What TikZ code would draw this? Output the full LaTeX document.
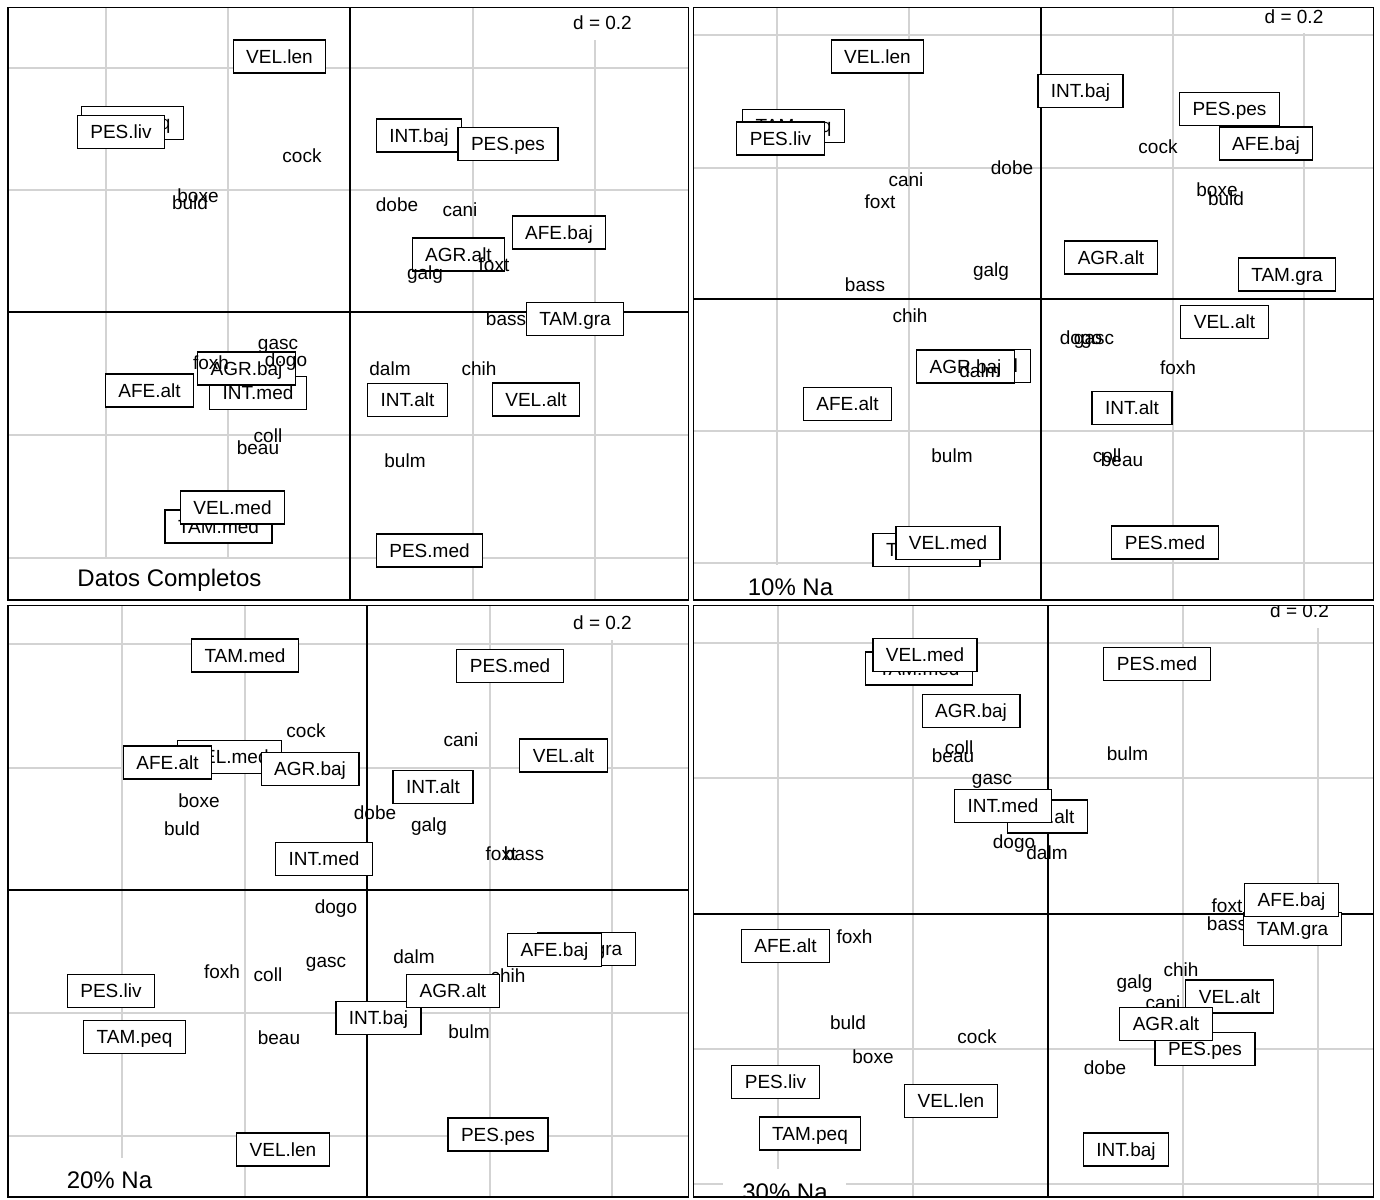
\documentclass[tikz,border=0pt]{standalone}
\usepackage{fontspec}
\setmainfont{Liberation Sans}
\definecolor{plotink}{HTML}{000000}
\definecolor{plotgrid}{HTML}{D3D3D3}
\newcommand\labfont{\fontsize{19}{19}\selectfont}
\newcommand\subfont{\fontsize{24}{24}\selectfont}

\begin{document}
\begin{tikzpicture}[
  x=1pt,
  y=-1pt,
  every node/.style={font=\labfont},
  catbox/.style={draw=plotink, fill=white, line width=1.2pt, minimum height=33, inner xsep=13pt, inner ysep=0pt, text height=13.7pt, text depth=0pt},
  doglab/.style={inner sep=0pt, text height=12pt, text depth=0pt},
  sublab/.style={font=\subfont, inner sep=0pt, text height=17pt, text depth=0pt},
  gridline/.style={plotgrid, line width=1.2pt},
  axisline/.style={plotink, line width=1.2pt},
  frameline/.style={plotink, line width=1.8pt}
]
  \useasboundingbox (0,0) rectangle (1380,1199);

  % Datos Completos
  \begin{scope}
    \clip (8,7.5) rectangle (688.5,600);
    \foreach \gx in {106,228,473,595} \draw[gridline] (\gx,7.5) -- (\gx,600);
    \foreach \gy in {68,190,435,558} \draw[gridline] (8,\gy) -- (688.5,\gy);
    \fill[white] (563,7.5) rectangle (642,40);
    \fill[white] (8,559) rectangle (272,600);
    \draw[axisline] (350,7.5) -- (350,600);
    \draw[axisline] (8,312) -- (688.5,312);
    \node[doglab] (A-d) at (602.5,24) {d = 0.2};
    \node[sublab] (A-sub) at (169.5,578) {Datos Completos};
    \node[catbox] (A-TAMpeq) at (132.5,123) {TAM.peq};
    \node[catbox] (A-PESliv) at (121,132) {PES.liv};
    \node[catbox] (A-VELlen) at (279.5,56.5) {VEL.len};
    \node[catbox] (A-INTbaj) at (419,135.5) {INT.baj};
    \node[catbox] (A-PESpes) at (508,144) {PES.pes};
    \node[catbox] (A-AFEbaj) at (559,232.5) {AFE.baj};
    \node[catbox] (A-AGRalt) at (458.5,254.5) {AGR.alt};
    \node[catbox] (A-TAMgra) at (575,319) {TAM.gra};
    \node[catbox] (A-AFEalt) at (149.5,390.5) {AFE.alt};
    \node[catbox] (A-INTmed) at (258,393) {INT.med};
    \node[catbox] (A-AGRbaj) at (246.5,368.5) {AGR.baj};
    \node[catbox] (A-TAMmed) at (218.5,526.5) {TAM.med};
    \node[catbox] (A-VELmed) at (232.5,507.5) {VEL.med};
    \node[catbox] (A-INTalt) at (407.5,400) {INT.alt};
    \node[catbox] (A-VELalt) at (536,399.5) {VEL.alt};
    \node[catbox] (A-PESmed) at (429.5,550.5) {PES.med};
    \node[doglab] (A-cock) at (302,156) {cock};
    \node[doglab] (A-boxe) at (198,196) {boxe};
    \node[doglab] (A-buld) at (190,203) {buld};
    \node[doglab] (A-dobe) at (397,205) {dobe};
    \node[doglab] (A-cani) at (460,210) {cani};
    \node[doglab] (A-foxt) at (494,265) {foxt};
    \node[doglab] (A-galg) at (425,273) {galg};
    \node[doglab] (A-bass) at (506,319) {bass};
    \node[doglab] (A-gasc) at (278,343) {gasc};
    \node[doglab] (A-foxh) at (211,363) {foxh};
    \node[doglab] (A-dogo) at (286,360) {dogo};
    \node[doglab] (A-dalm) at (390,369) {dalm};
    \node[doglab] (A-chih) at (479,369) {chih};
    \node[doglab] (A-coll) at (268,436) {coll};
    \node[doglab] (A-beau) at (258,448) {beau};
    \node[doglab] (A-bulm) at (405,461) {bulm};
  \end{scope}
  \draw[frameline] (8,7.5) rectangle (688.5,600);

  % 10% Na
  \begin{scope}
    \clip (693.5,7.5) rectangle (1373.5,600);
    \foreach \gx in {777,909,1173,1304} \draw[gridline] (\gx,7.5) -- (\gx,600);
    \foreach \gy in {35,168,431,563} \draw[gridline] (693.5,\gy) -- (1373.5,\gy);
    \fill[white] (1254,7.5) rectangle (1334,33);
    \fill[white] (738,565) rectangle (843,600);
    \draw[axisline] (1041,7.5) -- (1041,600);
    \draw[axisline] (693.5,299) -- (1373.5,299);
    \node[doglab] (B-d) at (1294,18) {d = 0.2};
    \node[sublab] (B-sub) at (790.5,587) {10\% Na};
    \node[catbox] (B-VELlen) at (877.5,56.5) {VEL.len};
    \node[catbox] (B-TAMpeq) at (793.5,126) {TAM.peq};
    \node[catbox] (B-PESliv) at (780.5,138.5) {PES.liv};
    \node[catbox] (B-INTbaj) at (1080.5,91) {INT.baj};
    \node[catbox] (B-PESpes) at (1229.5,109) {PES.pes};
    \node[catbox] (B-AFEbaj) at (1266,143.5) {AFE.baj};
    \node[catbox] (B-AGRalt) at (1111,257.5) {AGR.alt};
    \node[catbox] (B-TAMgra) at (1287,274.5) {TAM.gra};
    \node[catbox] (B-VELalt) at (1224.5,322) {VEL.alt};
    \node[catbox] (B-INTalt) at (1132,408) {INT.alt};
    \node[catbox] (B-PESmed) at (1165,542.5) {PES.med};
    \node[catbox] (B-AFEalt) at (847.5,404) {AFE.alt};
    \node[catbox] (B-INTmed) at (982.5,366) {INT.med};
    \node[catbox] (B-AGRbaj) at (965.5,366.5) {AGR.baj};
    \node[catbox] (B-TAMmed) at (926.5,550) {TAM.med};
    \node[catbox] (B-VELmed) at (948,543) {VEL.med};
    \node[doglab] (B-cani) at (906,180) {cani};
    \node[doglab] (B-foxt) at (880,202) {foxt};
    \node[doglab] (B-dobe) at (1012,168) {dobe};
    \node[doglab] (B-galg) at (991,270) {galg};
    \node[doglab] (B-bass) at (865,285) {bass};
    \node[doglab] (B-cock) at (1158,147) {cock};
    \node[doglab] (B-boxe) at (1217,190) {boxe};
    \node[doglab] (B-buld) at (1226,199) {buld};
    \node[doglab] (B-chih) at (910,316) {chih};
    \node[doglab] (B-dalm) at (980,371) {dalm};
    \node[doglab] (B-bulm) at (952,456) {bulm};
    \node[doglab] (B-dogo) at (1081,338) {dogo};
    \node[doglab] (B-gasc) at (1094,338) {gasc};
    \node[doglab] (B-foxh) at (1178,368) {foxh};
    \node[doglab] (B-coll) at (1107,456) {coll};
    \node[doglab] (B-beau) at (1122,460) {beau};
  \end{scope}
  \draw[frameline] (693.5,7.5) rectangle (1373.5,600);

  % 20% Na
  \begin{scope}
    \clip (8,605.5) rectangle (688.5,1197);
    \foreach \gx in {122,245,490,612} \draw[gridline] (\gx,605.5) -- (\gx,1197);
    \foreach \gy in {644,768,1013,1136} \draw[gridline] (8,\gy) -- (688.5,\gy);
    \fill[white] (563,605.5) rectangle (642,640);
    \fill[white] (56,1158) rectangle (163,1197);
    \draw[axisline] (367,605.5) -- (367,1197);
    \draw[axisline] (8,890) -- (688.5,890);
    \node[doglab] (C-d) at (602.5,623) {d = 0.2};
    \node[sublab] (C-sub) at (109.5,1180) {20\% Na};
    \node[doglab] (C-cock) at (306,731) {cock};
    \node[doglab] (C-cani) at (461,740) {cani};
    \node[doglab] (C-boxe) at (199,801) {boxe};
    \node[doglab] (C-buld) at (182,829) {buld};
    \node[doglab] (C-dobe) at (375,813) {dobe};
    \node[doglab] (C-galg) at (429,825) {galg};
    \node[doglab] (C-foxt) at (501,854) {foxt};
    \node[doglab] (C-bass) at (524,854) {bass};
    \node[doglab] (C-dogo) at (336,907) {dogo};
    \node[doglab] (C-dalm) at (414,957) {dalm};
    \node[doglab] (C-foxh) at (222,972) {foxh};
    \node[doglab] (C-coll) at (268,975) {coll};
    \node[doglab] (C-gasc) at (326,961) {gasc};
    \node[doglab] (C-chih) at (508,976) {chih};
    \node[doglab] (C-bulm) at (469,1032) {bulm};
    \node[doglab] (C-beau) at (279,1038) {beau};
    \node[catbox] (C-TAMmed) at (245,655.5) {TAM.med};
    \node[catbox] (C-PESmed) at (510,666) {PES.med};
    \node[catbox] (C-VELmed) at (229.5,757) {VEL.med};
    \node[catbox] (C-AFEalt) at (167.5,762.5) {AFE.alt};
    \node[catbox] (C-AGRbaj) at (310,769) {AGR.baj};
    \node[catbox] (C-VELalt) at (563.5,755.5) {VEL.alt};
    \node[catbox] (C-INTalt) at (433,787) {INT.alt};
    \node[catbox] (C-INTmed) at (324,859) {INT.med};
    \node[catbox] (C-TAMgra) at (586.5,949) {TAM.gra};
    \node[catbox] (C-AFEbaj) at (554.5,950) {AFE.baj};
    \node[catbox] (C-INTbaj) at (378.5,1018) {INT.baj};
    \node[catbox] (C-AGRalt) at (453,991) {AGR.alt};
    \node[catbox] (C-PESliv) at (111,991) {PES.liv};
    \node[catbox] (C-TAMpeq) at (134.5,1037) {TAM.peq};
    \node[catbox] (C-VELlen) at (283,1149.5) {VEL.len};
    \node[catbox] (C-PESpes) at (498,1134.5) {PES.pes};
  \end{scope}
  \draw[frameline] (8,605.5) rectangle (688.5,1197);

  % 30% Na
  \begin{scope}
    \clip (693.5,605.5) rectangle (1373.5,1197);
    \foreach \gx in {778,913,1183,1318} \draw[gridline] (\gx,605.5) -- (\gx,1197);
    \foreach \gy in {643,778,1049,1184} \draw[gridline] (693.5,\gy) -- (1373.5,\gy);
    \fill[white] (1260,605.5) rectangle (1339,628);
    \fill[white] (723,1169) rectangle (846,1197);
    \draw[axisline] (1048,605.5) -- (1048,1197);
    \draw[axisline] (693.5,914) -- (1373.5,914);
    \node[doglab] (D-d) at (1299.5,611) {d = 0.2};
    \node[sublab] (D-sub) at (785,1191.5) {30\% Na};
    \node[doglab] (D-coll) at (959,748) {coll};
    \node[doglab] (D-beau) at (953,756) {beau};
    \node[doglab] (D-bulm) at (1127.5,754) {bulm};
    \node[doglab] (D-gasc) at (992,778) {gasc};
    \node[doglab] (D-dogo) at (1014,842) {dogo};
    \node[doglab] (D-dalm) at (1047,853) {dalm};
    \node[doglab] (D-foxt) at (1227,906) {foxt};
    \node[doglab] (D-bass) at (1227,924) {bass};
    \node[doglab] (D-foxh) at (854.5,937) {foxh};
    \node[doglab] (D-chih) at (1181,970) {chih};
    \node[doglab] (D-galg) at (1134.5,982) {galg};
    \node[doglab] (D-cani) at (1163,1003) {cani};
    \node[doglab] (D-buld) at (848,1023) {buld};
    \node[doglab] (D-cock) at (977,1037) {cock};
    \node[doglab] (D-boxe) at (873,1057) {boxe};
    \node[doglab] (D-dobe) at (1105,1068) {dobe};
    \node[catbox] (D-TAMmed) at (919,668.5) {TAM.med};
    \node[catbox] (D-VELmed) at (925,655) {VEL.med};
    \node[catbox] (D-PESmed) at (1157,664) {PES.med};
    \node[catbox] (D-AGRbaj) at (971,711) {AGR.baj};
    \node[catbox] (D-INTalt) at (1047.5,816.5) {INT.alt};
    \node[catbox] (D-INTmed) at (1003,806) {INT.med};
    \node[catbox] (D-TAMgra) at (1292.5,929) {TAM.gra};
    \node[catbox] (D-AFEbaj) at (1291.5,900) {AFE.baj};
    \node[catbox] (D-AFEalt) at (785.5,946) {AFE.alt};
    \node[catbox] (D-VELalt) at (1229.5,996.5) {VEL.alt};
    \node[catbox] (D-PESpes) at (1205,1049) {PES.pes};
    \node[catbox] (D-AGRalt) at (1166,1024) {AGR.alt};
    \node[catbox] (D-PESliv) at (775.5,1082) {PES.liv};
    \node[catbox] (D-VELlen) at (951,1101) {VEL.len};
    \node[catbox] (D-TAMpeq) at (810,1133.5) {TAM.peq};
    \node[catbox] (D-INTbaj) at (1126,1149.5) {INT.baj};
  \end{scope}
  \draw[frameline] (693.5,605.5) rectangle (1373.5,1197);
\end{tikzpicture}
\end{document}
